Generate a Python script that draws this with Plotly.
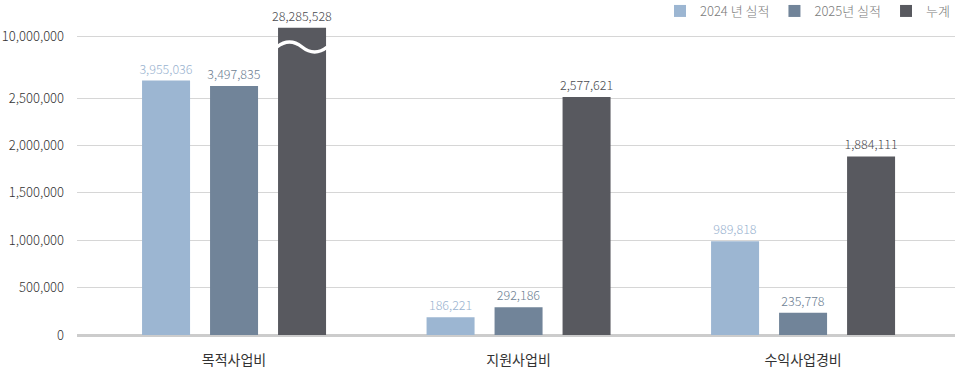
import numpy as np
import plotly.graph_objects as go

categories = ["목적사업비", "지원사업비", "수익사업경비"]
series_names = ["2024 년 실적", "2025년 실적", "누계"]
values_2024 = [3955036, 186221, 989818]
values_2025 = [3497835, 292186, 235778]
values_total = [28285528, 2577621, 1884111]
series_values = [values_2024, values_2025, values_total]
tick_values = [0, 500000, 1000000, 1500000, 2000000, 2500000, 10000000]
tick_labels = ["0", "500,000", "1,000,000", "1,500,000", "2,000,000", "2,500,000", "10,000,000"]

bar_colors = ["#9cb6d2", "#718499", "#58595f"]
label_colors = ["#9ab3d0", "#6e7f93", "#4a4b50"]

# broken axis: linear up to 2.5M, compressed above
KNOT_VAL = [0, 2.5e6, 4e6, 1e7, 3e7]
KNOT_DISP = [0, 2.5e6, 2.69e6, 3.154e6, 3.25e6]


def to_disp(v):
    return float(np.interp(v, KNOT_VAL, KNOT_DISP))


FONT = "Noto Sans CJK KR, Noto Sans, sans-serif"
BARGAP = 0.283
BARGROUPGAP = 0.294
x_pos = list(range(len(categories)))

fig = go.Figure()
for name, vals, col, lcol in zip(series_names, series_values, bar_colors, label_colors):
    fig.add_trace(go.Bar(
        x=x_pos, y=[to_disp(v) for v in vals], name=name,
        marker=dict(color=col, line=dict(width=0)),
        text=[f"{v:,}" for v in vals], textposition="outside",
        outsidetextfont=dict(family=FONT, size=12.5, color=lcol, weight=300),
        constraintext="none", cliponaxis=False,
        hoverinfo="skip",
    ))

# wavy break on the big bar (third series, first category)
slot = (1 - BARGAP) / 3
xc = 0 + slot
hw = slot * (1 - BARGROUPGAP) / 2 + 0.004
x0, x1 = xc - hw, xc + hw
w = x1 - x0
px_per_unit = 94.8 / 1e6
yc = (335 - 47) / px_per_unit
a = 5 / px_per_unit * 4 / 3
path = (f"M {x0},{yc} C {x0 + w/6},{yc + a} {x0 + w/3},{yc + a} {x0 + w/2},{yc} "
        f"C {x0 + 2*w/3},{yc - a} {x0 + 5*w/6},{yc - a} {x1},{yc}")
fig.add_shape(type="path", path=path, xref="x", yref="y",
              line=dict(color="white", width=3.5))

top = 18
bottom = 39
plot_h = 374 - top - bottom
fig.update_layout(
    width=959, height=374,
    margin=dict(l=77, r=4, t=top, b=bottom, autoexpand=False),
    paper_bgcolor="white", plot_bgcolor="white",
    barmode="group", bargap=BARGAP, bargroupgap=BARGROUPGAP,
    font=dict(family=FONT, color="#333333"),
    showlegend=True,
    legend=dict(orientation="h", x=1.0, xanchor="right", y=1 + (top + 4) / plot_h, yanchor="top",
                font=dict(family=FONT, size=13, color="#7a7a7a", weight=300),
                itemwidth=30, bgcolor="rgba(0,0,0,0)", traceorder="normal"),
)
fig.update_xaxes(
    range=[-0.552, 2.534], tickmode="array", tickvals=x_pos, ticktext=categories,
    showgrid=False, zeroline=False, showline=False, automargin=False,
    ticks="outside", ticklen=12, tickcolor="rgba(0,0,0,0)",
    tickfont=dict(family=FONT, size=14, color="#333333"),
)
fig.update_yaxes(
    range=[0, plot_h / px_per_unit], automargin=False,
    tickmode="array", tickvals=[to_disp(v) for v in tick_values], ticktext=tick_labels,
    showgrid=True, gridcolor="#d6d6d6", gridwidth=1,
    zeroline=True, zerolinecolor="#cccccc", zerolinewidth=3,
    showline=False, ticks="", ticklabelstandoff=12,
    tickfont=dict(family=FONT, size=13, color="#333333", weight=300),
)
fig.write_html("out.html", config={"displayModeBar": False},
               post_script="document.body.style.margin='0';document.body.style.overflow='hidden';")
